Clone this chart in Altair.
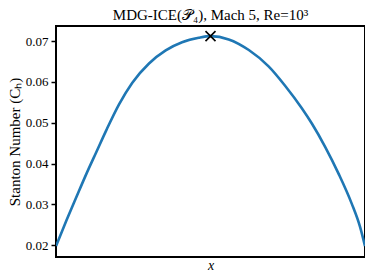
import altair as alt
import pandas as pd

x_vals = [0.0, 0.034, 0.066, 0.099, 0.131, 0.163, 0.204, 0.247, 0.301, 0.355, 0.408,
          0.462, 0.5, 0.559, 0.624, 0.688, 0.742, 0.795, 0.828, 0.871, 0.914, 0.957,
          0.984, 1.0]
ch_vals = [0.0198, 0.0261, 0.0318, 0.0376, 0.0429, 0.0482, 0.0545, 0.0598, 0.0645,
           0.0677, 0.0697, 0.0708, 0.0712, 0.0704, 0.0678, 0.0638, 0.0590, 0.0536,
           0.0498, 0.0441, 0.0376, 0.0302, 0.0245, 0.0198]
peak_x = [0.5]
peak_y = [0.0712]
y_ticks = [0.02, 0.03, 0.04, 0.05, 0.06, 0.07]

df = pd.DataFrame({"x": x_vals, "ch": ch_vals})
pk = pd.DataFrame({"x": peak_x, "ch": peak_y})

FONT = "Liberation Serif"

xs = alt.Scale(domain=[0, 1], nice=False, zero=False)
ys = alt.Scale(domain=[0.01713, 0.07368], nice=False, zero=False)

line = alt.Chart(df).mark_line(color="#1f77b4", strokeWidth=2.6, clip=True,
                               interpolate="monotone").encode(
    x=alt.X("x:Q", scale=xs, title="x",
            axis=alt.Axis(labels=False, ticks=False, domain=False, grid=False,
                          titleFontStyle="italic", titleFontWeight="normal",
                          titleFontSize=14, titleColor="black", titlePadding=1)),
    y=alt.Y("ch:Q", scale=ys, title="Stanton Number (Cₕ)",
            axis=alt.Axis(values=y_ticks, format=".2f", grid=False, domain=False,
                          tickSize=5, tickWidth=1.5, tickColor="black",
                          labelFontSize=13, labelColor="black", labelPadding=3,
                          titleFontSize=15, titleFontWeight="normal",
                          titleColor="black", titlePadding=3)),
)

marker = alt.Chart(pk).mark_point(
    shape="M-1,-1L1,1M-1,1L1,-1", filled=False, color="black",
    strokeWidth=1.6, size=100, opacity=1
).encode(x=alt.X("x:Q", scale=xs), y=alt.Y("ch:Q", scale=ys))

chart = (line + marker).properties(
    width=309, height=231,
    title=alt.TitleParams("MDG-ICE(𝒫₄), Mach 5, Re=10³", fontSize=15,
                          fontWeight="normal", font=FONT, color="black", offset=3),
    autosize="none",
    padding={"left": 48, "top": 18, "right": 0, "bottom": 16},
).configure(font=FONT).configure_view(stroke="black", strokeWidth=2).configure_axis(
    labelFont=FONT, titleFont=FONT
)

chart.save("out.html", embed_options={"renderer": "svg", "actions": False})
